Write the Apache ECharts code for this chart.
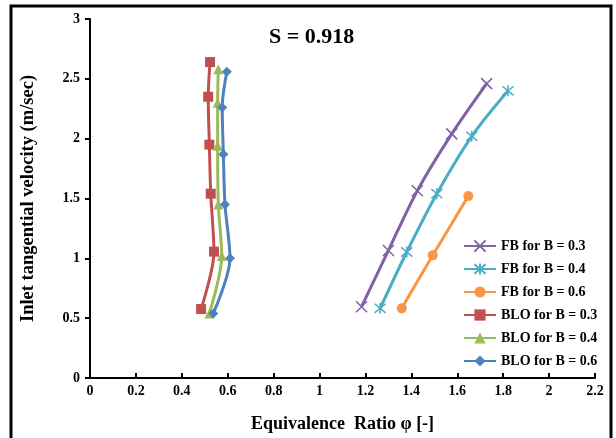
<!DOCTYPE html>
<html>
<head>
<meta charset="utf-8">
<script src="https://cdn.jsdelivr.net/npm/echarts@6/dist/echarts.min.js"></script>
<style>
html,body{margin:0;padding:0;background:#fff;}
#chart{width:616px;height:438px;}
</style>
</head>
<body>
<div id="chart"></div>
<script>
// ---- data ----
const seriesNames = ['FB for B = 0.3','FB for B = 0.4','FB for B = 0.6','BLO for B = 0.3','BLO for B = 0.4','BLO for B = 0.6'];

const fb03X = [1.183, 1.300, 1.426, 1.576, 1.728];
const fb03Y = [0.596, 1.066, 1.565, 2.040, 2.460];

const fb04X = [1.264, 1.380, 1.511, 1.663, 1.821];
const fb04Y = [0.582, 1.053, 1.540, 2.020, 2.400];

const fb06X = [1.358, 1.493, 1.648];
const fb06Y = [0.582, 1.025, 1.520];

const blo03X = [0.484, 0.540, 0.526, 0.520, 0.515, 0.523];
const blo03Y = [0.576, 1.056, 1.540, 1.950, 2.350, 2.640];

const blo04X = [0.520, 0.574, 0.559, 0.556, 0.556, 0.559];
const blo04Y = [0.540, 1.020, 1.450, 1.940, 2.300, 2.580];

const blo06X = [0.537, 0.610, 0.588, 0.581, 0.576, 0.596];
const blo06Y = [0.540, 1.000, 1.450, 1.870, 2.260, 2.560];

const xTicks = {min: 0, max: 2.2, interval: 0.2};
const yTicks = {min: 0, max: 3, interval: 0.5};

const titleText = 'S = 0.918';
const xName = 'Equivalence  Ratio φ [-]';
const yName = 'Inlet tangential velocity (m/sec)';

// ---- build ----
function pairs(xs, ys){ return xs.map((x,i)=>[x, ys[i]]); }

const FONT = '"Liberation Serif", "Times New Roman", serif';
const colors = ['#7F62A6','#4BACC6','#F79646','#C0504D','#9BBB59','#4F81BD'];
const symbols = [
  'path://M0,0L10,10M10,0L0,10',
  'path://M0,0L10,10M10,0L0,10M5,-1L5,11',
  'circle','rect','triangle','diamond'
];
const sizes = [11, 11, 10, 10, 10, 10];
const datasets = [
  pairs(fb03X, fb03Y), pairs(fb04X, fb04Y), pairs(fb06X, fb06Y),
  pairs(blo03X, blo03Y), pairs(blo04X, blo04Y), pairs(blo06X, blo06Y)
];

const series = seriesNames.map((name, i) => ({
  name: name,
  type: 'line',
  data: datasets[i],
  smooth: 0.3,
  symbol: symbols[i],
  symbolSize: sizes[i],
  showAllSymbol: true,
  lineStyle: {color: colors[i], width: 3},
  itemStyle: {color: colors[i], borderColor: colors[i], borderWidth: i < 2 ? 1.5 : 0},
  emphasis: {disabled: true},
  z: 2 + i
}));

const chart = echarts.init(document.getElementById('chart'), null, {renderer: 'canvas'});
chart.setOption({
  animation: false,
  backgroundColor: '#ffffff',
  color: colors,
  title: {
    text: titleText,
    left: 264, top: 21,
    textStyle: {fontFamily: FONT, fontSize: 22, fontWeight: 'bold', color: '#000'}
  },
  graphic: [{
    type: 'rect',
    shape: {x: 11, y: 6, width: 600, height: 450},
    style: {fill: 'none', stroke: '#000', lineWidth: 3},
    silent: true, z: 100
  }],
  legend: {
    orient: 'vertical',
    left: 458, top: 234,
    itemWidth: 32, itemHeight: 14, itemGap: 9,
    data: seriesNames,
    textStyle: {fontFamily: FONT, fontSize: 14, fontWeight: 'bold', color: '#000', lineHeight: 14}
  },
  grid: {left: 90, right: 21, top: 19, bottom: 58, containLabel: false},
  xAxis: {
    type: 'value',
    min: xTicks.min, max: xTicks.max, interval: xTicks.interval,
    name: xName, nameLocation: 'middle', nameGap: 37,
    nameTextStyle: {fontFamily: FONT, fontSize: 18, fontWeight: 'bold', color: '#000'},
    axisLine: {show: true, onZero: false, lineStyle: {color: '#000', width: 2}},
    axisTick: {show: true, inside: true, length: 5, lineStyle: {color: '#000', width: 2}},
    axisLabel: {fontFamily: FONT, fontSize: 14, fontWeight: 'bold', color: '#000', margin: 6},
    splitLine: {show: false}
  },
  yAxis: {
    type: 'value',
    min: yTicks.min, max: yTicks.max, interval: yTicks.interval,
    name: yName, nameLocation: 'middle', nameGap: 52,
    nameTextStyle: {fontFamily: FONT, fontSize: 18.5, fontWeight: 'bold', color: '#000'},
    axisLine: {show: true, onZero: false, lineStyle: {color: '#000', width: 2}},
    axisTick: {show: true, inside: false, length: 5, lineStyle: {color: '#000', width: 2}},
    axisLabel: {fontFamily: FONT, fontSize: 14, fontWeight: 'bold', color: '#000', margin: 10},
    splitLine: {show: false}
  },
  series: series
});
</script>
</body>
</html>
